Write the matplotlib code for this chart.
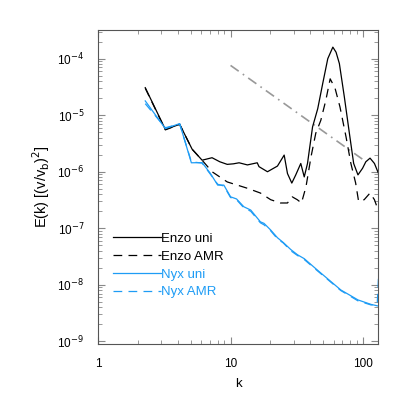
import numpy as np
import matplotlib.pyplot as plt

plt.rcParams['font.family'] = ['Liberation Sans', 'DejaVu Sans']

# Enzo, uniform grid
k_enzo_uni = [2.27, 3.22, 4.13, 5.13, 6.1, 7.25, 8.3, 9.44, 10.5, 11.6, 13.4, 15.9, 16.4,
              19.0, 22.6, 25.4, 26.9, 29.0, 31.0, 33.9, 36.0, 38.1, 41.6, 45.5, 49.6,
              54.2, 59.2, 62.6, 66.3, 72.3, 78.9, 85.0, 91.6, 99.2, 105, 113, 122, 131]
E_enzo_uni = [3.07e-5, 5.6e-6, 6.9e-6, 2.5e-6, 1.6e-6, 1.77e-6, 1.5e-6, 1.35e-6, 1.38e-6,
              1.44e-6, 1.32e-6, 1.44e-6, 1.23e-6, 1.0e-6, 1.26e-6, 1.97e-6, 9.3e-7, 6.3e-7,
              8.7e-7, 1.4e-6, 8.1e-7, 1.4e-6, 6.2e-6, 1.3e-5, 3.6e-5, 1.0e-4, 1.6e-4,
              1.3e-4, 8.2e-5, 2.1e-5, 4.8e-6, 1.4e-6, 8.8e-7, 1.15e-6, 1.5e-6, 1.74e-6,
              1.4e-6, 9.3e-7]

# Enzo, AMR
k_enzo_amr = [2.27, 3.22, 4.13, 5.13, 6.1, 7.25, 9.44, 13.4, 16.8, 20.1, 23.8, 26.9,
              29.2, 31.9, 34.3, 37.1, 40.5, 44.0, 48.0, 52.4, 56.5, 61.5, 67.0, 74.5,
              81.0, 88.0, 92.6, 102, 113, 122, 131]
E_enzo_amr = [3.0e-5, 5.5e-6, 6.9e-6, 2.5e-6, 1.6e-6, 1.0e-6, 6.6e-7, 5.1e-7, 4.2e-7,
              3.2e-7, 2.8e-7, 2.8e-7, 3.6e-7, 3.2e-7, 2.8e-7, 5.4e-7, 1.84e-6, 4.8e-6,
              8.1e-6, 1.84e-5, 4.4e-5, 3.0e-5, 1.4e-5, 4.1e-6, 1.4e-6, 6.3e-7, 3.0e-7,
              3.2e-7, 4.2e-7, 3.2e-7, 2.0e-7]

# Nyx, uniform grid
k_nyx_uni = [2.27, 3.22, 4.13, 5.06, 6.1, 7.05, 8.0, 8.9, 10.0, 11.1, 12.6, 14.2, 16.8,
             17.9, 20.1, 22.6, 25.0, 28.5, 32.0, 36.0, 45.5, 57.0, 68.0, 80.0, 91.6,
             115, 131]
E_nyx_uni = [1.79e-5, 5.8e-6, 7.1e-6, 1.44e-6, 1.45e-6, 9.3e-7, 5.8e-7, 5.8e-7, 3.6e-7,
             3.3e-7, 2.4e-7, 2.1e-7, 1.3e-7, 1.22e-7, 9.3e-8, 6.8e-8, 5.6e-8, 4.2e-8,
             3.4e-8, 2.9e-8, 1.8e-8, 1.15e-8, 8.1e-9, 6.5e-9, 5.4e-9, 4.5e-9, 4.2e-9]

# Nyx, AMR
k_nyx_amr = [2.27, 3.22, 4.13, 5.06, 6.1, 7.05, 8.0, 8.9, 10.0, 11.1, 12.6, 14.2, 16.8,
             17.9, 20.1, 22.6, 25.0, 28.5, 32.0, 36.0, 45.5, 57.0, 68.0, 80.0, 91.6,
             115, 128, 131]
E_nyx_amr = [1.6e-5, 6.0e-6, 7.0e-6, 1.5e-6, 1.42e-6, 9.0e-7, 6.0e-7, 5.6e-7, 3.5e-7,
             3.2e-7, 2.3e-7, 2.0e-7, 1.25e-7, 1.15e-7, 9.0e-8, 6.5e-8, 5.5e-8, 4.0e-8,
             3.3e-8, 2.8e-8, 1.75e-8, 1.12e-8, 7.9e-9, 6.3e-9, 5.2e-9, 4.4e-9, 4.5e-9,
             1.4e-8]

# Kolmogorov reference line
k_kol = [10, 100]
E_kol = [7.6e-5, 1.64e-6]

blue = '#1E9CF5'

fig = plt.figure(figsize=(4.07, 4.07), dpi=100)
ax = fig.add_axes([0.241, 0.155, 0.688, 0.771])

ax.plot(k_kol, E_kol, color='#999999', lw=1.2, dashes=(6, 3, 1, 3))
ax.plot(k_enzo_uni, E_enzo_uni, color='black', lw=0.9, label='Enzo uni')
ax.plot(k_enzo_amr, E_enzo_amr, color='black', lw=0.9, dashes=(7, 5), label='Enzo AMR')
ax.plot(k_nyx_uni, E_nyx_uni, color=blue, lw=0.9, label='Nyx uni')
ax.plot(k_nyx_amr, E_nyx_amr, color=blue, lw=0.9, dashes=(7, 5), label='Nyx AMR')

ax.set_xscale('log')
ax.set_yscale('log')
ax.set_xlim(1, 130)
ax.set_ylim(9e-10, 3.2e-4)

for s in ax.spines.values():
    s.set_color('#555555')
    s.set_linewidth(0.8)
ax.tick_params(which='both', direction='in', top=True, right=True, color='#888888',
               labelsize=8.5, pad=10)
ax.tick_params(which='major', length=5)
ax.tick_params(which='minor', length=3)
ax.set_yticks([1e-9, 1e-8, 1e-7, 1e-6, 1e-5, 1e-4])
ax.set_yticklabels([r'10$^{%d}$' % p for p in range(-9, -3)])
ax.set_xticks([1, 10, 100])
ax.set_xticklabels(['1', '10', '100'])

ax.set_xlabel('k', fontsize=9.5, labelpad=6)
ax.set_ylabel(r'E(k) [(v/v$_{\rm b}$)$^2$]', fontsize=10.5, labelpad=4)

leg = ax.legend(loc='upper left', bbox_to_anchor=(0.054, 0.354), frameon=False,
                fontsize=9.5, handlelength=3.64, handletextpad=0.0, labelspacing=0.42,
                borderaxespad=0, borderpad=0)
for txt, c in zip(leg.get_texts(), ['black', 'black', blue, blue]):
    txt.set_color(c)

fig.savefig('out.png', dpi=100)
